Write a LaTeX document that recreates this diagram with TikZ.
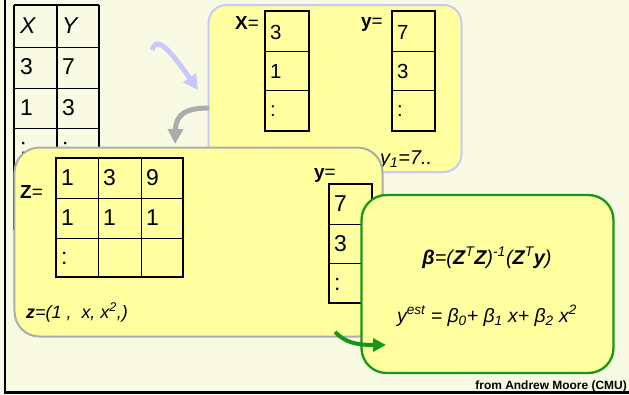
\documentclass[tikz,border=0pt]{standalone}
\usepackage{fontspec}
\setmainfont{Liberation Sans}
\usetikzlibrary{arrows.meta}
\definecolor{bg}{RGB}{249,250,228}
\definecolor{boxfill}{RGB}{255,255,160}
\definecolor{lav}{RGB}{200,200,250}
\definecolor{greyb}{RGB}{172,172,172}
\definecolor{grn}{RGB}{25,150,25}
\tikzset{
  thinline/.style={line width=1bp, black},
  thickline/.style={line width=1.8bp, black},
  bigcell/.style={anchor=west, inner sep=0pt, font=\fontsize{23}{26}\selectfont},
  midcell/.style={anchor=west, inner sep=0pt, font=\fontsize{20.5}{24}\selectfont},
  lbl/.style={anchor=base west, inner sep=0pt, font=\fontsize{19}{22}\selectfont},
  panel/.style={draw, fill=boxfill, line width=2bp, inner sep=0pt},
  fatarrow/.style={line width=5bp, -{Triangle[length=15bp,width=15bp]}},
}
\begin{document}
\begin{tikzpicture}[x=1bp,y=-1bp]
\fill[bg] (0,0) rectangle (629,394);
\useasboundingbox (0,0) rectangle (629,394);
% frame lines
\draw[line width=2.5bp] (5,0) -- (5,392.5) -- (629,392.5);

% data table
\foreach \xx in {14,57,99} \draw[thickline] (\xx,5) -- (\xx,230);
\draw[thickline] (14,5) -- (99,5);
\foreach \yy in {47,88,128,168} \draw[thinline] (14,\yy) -- (99,\yy);
\node[bigcell] (tX) at (20,26) {\textit{X}};
\node[bigcell] (tY) at (62,26) {\textit{Y}};
\node[bigcell] (t31) at (20,67) {3};
\node[bigcell] (t32) at (62,67) {7};
\node[bigcell] (t41) at (20,108) {1};
\node[bigcell] (t42) at (62,108) {3};
\node[bigcell] (t51) at (20,148) {:};
\node[bigcell] (t52) at (62,148) {:};

% lavender arrow
\coordinate (la1) at (152,50);
\coordinate (la2) at (198,90);
\draw[fatarrow, lav] (la1) .. controls (156,39) and (163,40) .. (la2);

% box 1
\node[panel, draw=lav, rounded corners=18bp, minimum width=253bp, minimum height=167bp] (box1) at (335,88.5) {};
\coordinate (ga1) at (209,108);
\coordinate (ga2) at (175,144);
\draw[fatarrow, greyb] (ga1) .. controls (186,108) and (176,114) .. (ga2);

\draw[thickline] (265,11) rectangle (309,131);
\foreach \yy in {51,90} \draw[thinline] (265,\yy) -- (309,\yy);
\draw[thickline] (392,11) rectangle (435,131);
\foreach \yy in {51,90} \draw[thinline] (392,\yy) -- (435,\yy);
\node[lbl] (Xeq) at (235,29) {\textbf{X}=};
\node[lbl] (yeq1) at (361,27) {\textbf{y}=};
\node[midcell] (x1) at (270,32) {3};
\node[midcell] (x2) at (270,71) {1};
\node[midcell] (x3) at (270,111) {:};
\node[midcell] (y1) at (397,32) {7};
\node[midcell] (y2) at (397,71) {3};
\node[midcell] (y3) at (397,111) {:};
\node[lbl, font=\fontsize{20}{23}\selectfont] (yone) at (380,164) {\textit{y\textsubscript{1}=7..}};

% box 2
\node[panel, draw=greyb, rounded corners=25bp, minimum width=368bp, minimum height=189bp] (box2) at (198.5,242) {};
\node[lbl] (Zeq) at (20,198) {\textbf{Z}=};
\draw[thickline] (56,158) rectangle (183,277);
\foreach \xx in {98,141} \draw[thinline] (\xx,158) -- (\xx,277);
\foreach \yy in {198,238} \draw[thinline] (56,\yy) -- (183,\yy);
\node[bigcell] (z11) at (61,178) {1};
\node[bigcell] (z12) at (103,178) {3};
\node[bigcell] (z13) at (146,178) {9};
\node[bigcell] (z21) at (61,218) {1};
\node[bigcell] (z22) at (103,218) {1};
\node[bigcell] (z23) at (146,218) {1};
\node[bigcell] (z31) at (61,258) {:};
\node[lbl] (yeq2) at (314,178) {\textbf{y}=};
\draw[thickline] (329,184) rectangle (372,303);
\foreach \yy in {224,263} \draw[thinline] (329,\yy) -- (372,\yy);
\node[bigcell] (w1) at (334,204) {7};
\node[bigcell] (w2) at (334,244) {3};
\node[bigcell] (w3) at (334,284) {:};
\node[lbl, font=\fontsize{18}{21}\selectfont] (zdef) at (26,318) {\textit{\textbf{z}=(1 ,~ x, x\textsuperscript{2},)}};

% box 3
\node[panel, draw=grn, line width=2.3bp, rounded corners=25bp, minimum width=252bp, minimum height=178bp] (box3) at (487.5,284) {};
\node[inner sep=0pt, font=\fontsize{20}{23}\selectfont] (beta) at (487,258) {\textit{\textbf{β}=(\textbf{Z}\textsuperscript{T}\textbf{Z})\textsuperscript{-1}(\textbf{Z}\textsuperscript{T}\textbf{y})}};
\node[inner sep=0pt, font=\fontsize{19.5}{23}\selectfont] (yest) at (487,316) {\textit{y\textsuperscript{est} = β\textsubscript{0}+ β\textsubscript{1} x+ β\textsubscript{2} x\textsuperscript{2}}};

% green arrow
\coordinate (gr1) at (335,332);
\coordinate (gr2) at (386,345);
\draw[grn, line width=4bp, -{Triangle[length=13bp,width=13bp]}] (gr1) .. controls (345,342) and (355,345) .. (gr2);

\node[anchor=base east, inner sep=0pt, font=\fontsize{12}{14}\selectfont\bfseries] (credit) at (627,389) {from Andrew Moore (CMU)};
\end{tikzpicture}
\end{document}
